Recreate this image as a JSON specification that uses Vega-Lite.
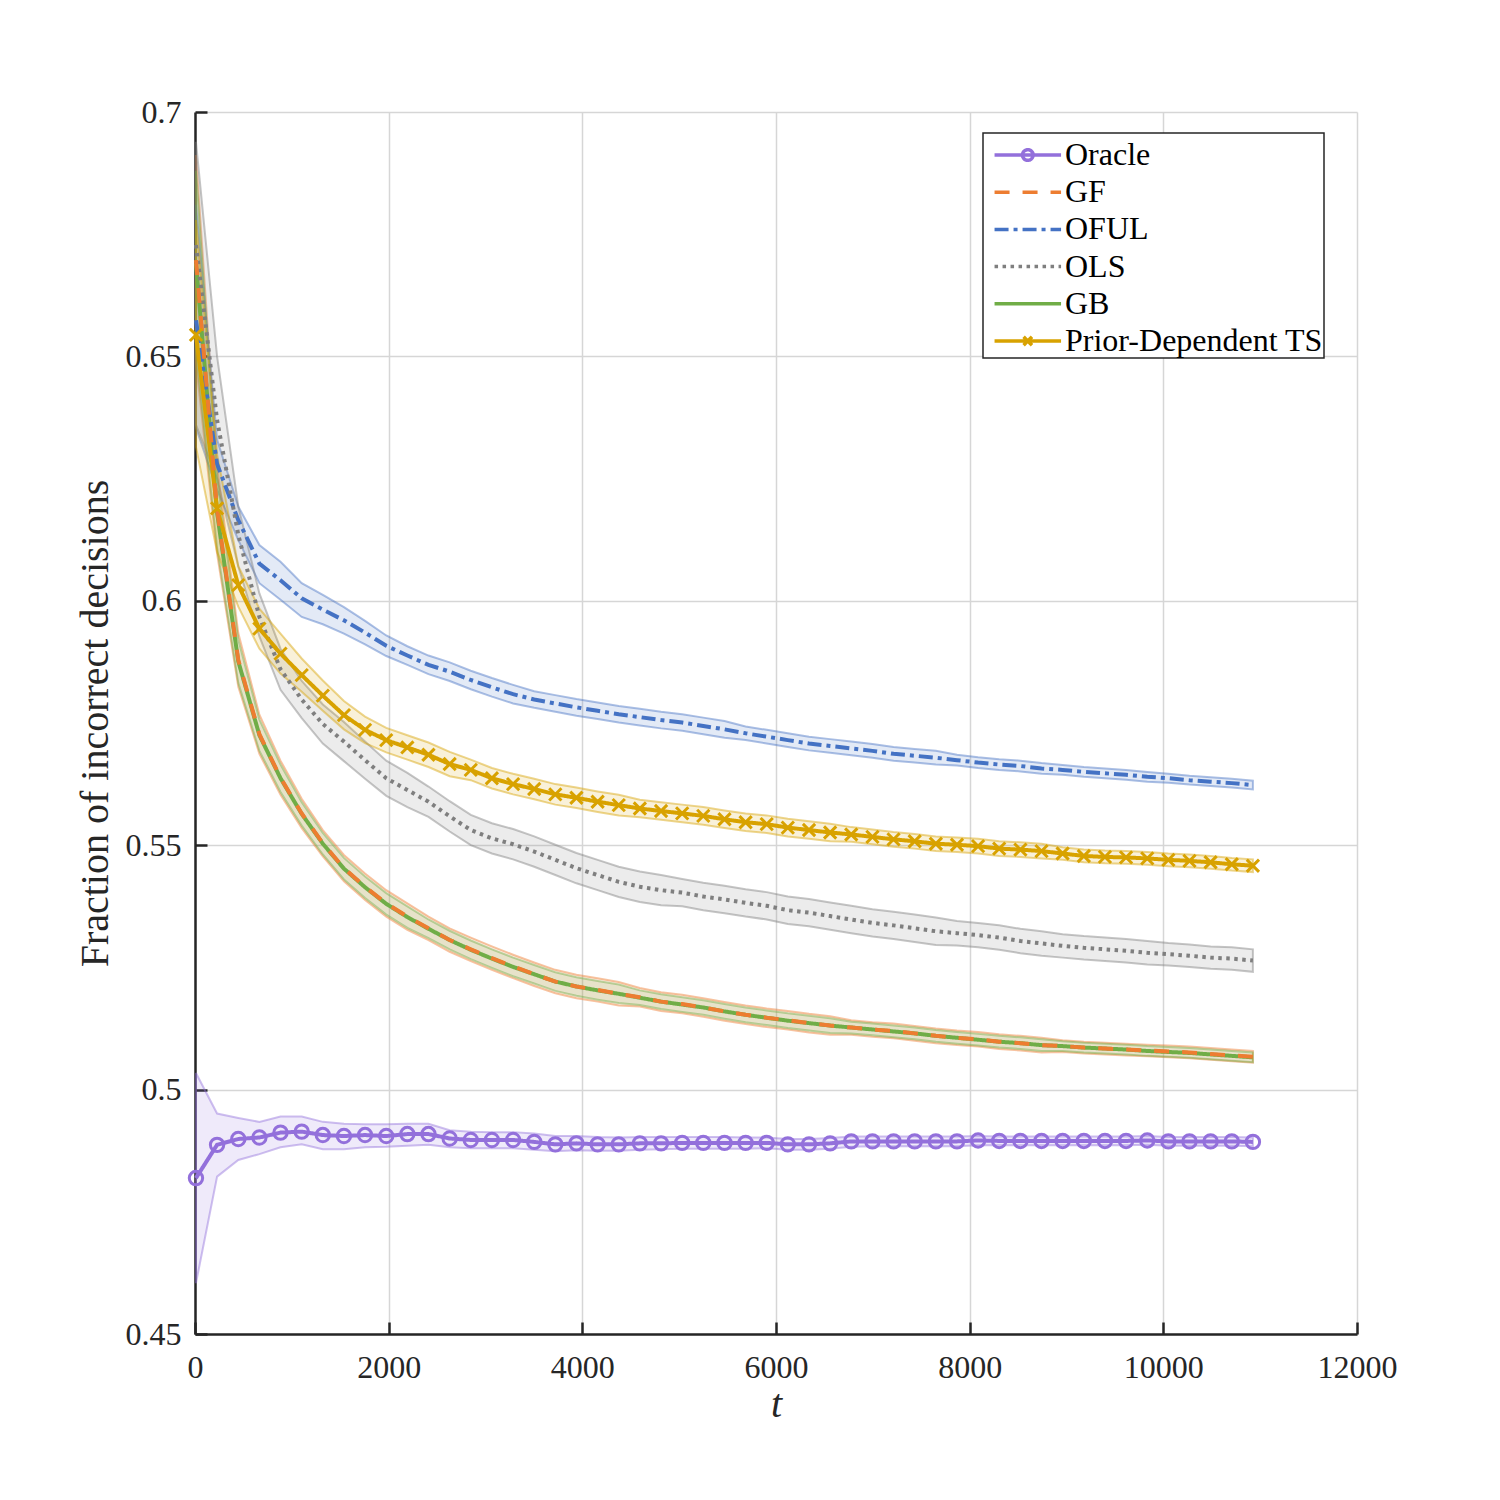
{
"$schema": "https://vega.github.io/schema/vega-lite/v6.json",
"width": 1162, "height": 1222,
"autosize": {"type": "none"},
"padding": {"left": 195, "top": 112, "right": 143, "bottom": 166},
"background": "white",
"config": {
  "font": "Liberation Serif",
  "view": {"stroke": null},
  "axis": {"domainColor": "#262626", "domainWidth": 2.5, "tickColor": "#262626", "tickWidth": 2.5, "tickSize": -12, "gridColor": "#d6d6d6", "gridWidth": 1.5, "labelFont": "Liberation Serif", "labelFontSize": 32, "labelColor": "#262626", "titleFont": "Liberation Serif", "titleFontSize": 40, "titleColor": "#262626", "titleFontWeight": "normal"}
},
"datasets": {"d": [
{"m":"Oracle","t":10,"v":0.4819,"lo":0.4604,"hi":0.5034},
{"m":"Oracle","t":228,"v":0.4887,"lo":0.4822,"hi":0.4951},
{"m":"Oracle","t":447,"v":0.4899,"lo":0.4856,"hi":0.4942},
{"m":"Oracle","t":665,"v":0.4902,"lo":0.4868,"hi":0.4934},
{"m":"Oracle","t":883,"v":0.4912,"lo":0.4882,"hi":0.4945},
{"m":"Oracle","t":1102,"v":0.4914,"lo":0.4888,"hi":0.4945},
{"m":"Oracle","t":1320,"v":0.4907,"lo":0.4878,"hi":0.4934},
{"m":"Oracle","t":1538,"v":0.4905,"lo":0.4878,"hi":0.4930},
{"m":"Oracle","t":1756,"v":0.4907,"lo":0.4882,"hi":0.4929},
{"m":"Oracle","t":1975,"v":0.4905,"lo":0.4883,"hi":0.4929},
{"m":"Oracle","t":2193,"v":0.4909,"lo":0.4885,"hi":0.4930},
{"m":"Oracle","t":2411,"v":0.4909,"lo":0.4887,"hi":0.4930},
{"m":"Oracle","t":2630,"v":0.4900,"lo":0.4882,"hi":0.4917},
{"m":"Oracle","t":2848,"v":0.4897,"lo":0.4880,"hi":0.4914},
{"m":"Oracle","t":3066,"v":0.4897,"lo":0.4880,"hi":0.4913},
{"m":"Oracle","t":3285,"v":0.4897,"lo":0.4880,"hi":0.4913},
{"m":"Oracle","t":3503,"v":0.4893,"lo":0.4877,"hi":0.4910},
{"m":"Oracle","t":3721,"v":0.4888,"lo":0.4874,"hi":0.4905},
{"m":"Oracle","t":3939,"v":0.4890,"lo":0.4876,"hi":0.4905},
{"m":"Oracle","t":4158,"v":0.4888,"lo":0.4875,"hi":0.4903},
{"m":"Oracle","t":4376,"v":0.4888,"lo":0.4875,"hi":0.4902},
{"m":"Oracle","t":4594,"v":0.4890,"lo":0.4877,"hi":0.4903},
{"m":"Oracle","t":4813,"v":0.4890,"lo":0.4878,"hi":0.4903},
{"m":"Oracle","t":5031,"v":0.4891,"lo":0.4879,"hi":0.4903},
{"m":"Oracle","t":5249,"v":0.4891,"lo":0.4879,"hi":0.4903},
{"m":"Oracle","t":5468,"v":0.4891,"lo":0.4879,"hi":0.4903},
{"m":"Oracle","t":5686,"v":0.4891,"lo":0.4879,"hi":0.4902},
{"m":"Oracle","t":5904,"v":0.4891,"lo":0.4880,"hi":0.4902},
{"m":"Oracle","t":6122,"v":0.4888,"lo":0.4877,"hi":0.4899},
{"m":"Oracle","t":6341,"v":0.4888,"lo":0.4877,"hi":0.4899},
{"m":"Oracle","t":6559,"v":0.4890,"lo":0.4879,"hi":0.4901},
{"m":"Oracle","t":6777,"v":0.4894,"lo":0.4883,"hi":0.4904},
{"m":"Oracle","t":6996,"v":0.4894,"lo":0.4884,"hi":0.4904},
{"m":"Oracle","t":7214,"v":0.4894,"lo":0.4884,"hi":0.4904},
{"m":"Oracle","t":7432,"v":0.4894,"lo":0.4884,"hi":0.4904},
{"m":"Oracle","t":7651,"v":0.4894,"lo":0.4884,"hi":0.4904},
{"m":"Oracle","t":7869,"v":0.4894,"lo":0.4884,"hi":0.4904},
{"m":"Oracle","t":8087,"v":0.4896,"lo":0.4886,"hi":0.4905},
{"m":"Oracle","t":8305,"v":0.4895,"lo":0.4886,"hi":0.4904},
{"m":"Oracle","t":8524,"v":0.4895,"lo":0.4886,"hi":0.4904},
{"m":"Oracle","t":8742,"v":0.4895,"lo":0.4886,"hi":0.4904},
{"m":"Oracle","t":8960,"v":0.4895,"lo":0.4886,"hi":0.4904},
{"m":"Oracle","t":9179,"v":0.4895,"lo":0.4886,"hi":0.4904},
{"m":"Oracle","t":9397,"v":0.4895,"lo":0.4886,"hi":0.4904},
{"m":"Oracle","t":9615,"v":0.4895,"lo":0.4886,"hi":0.4904},
{"m":"Oracle","t":9834,"v":0.4896,"lo":0.4887,"hi":0.4905},
{"m":"Oracle","t":10052,"v":0.4894,"lo":0.4885,"hi":0.4903},
{"m":"Oracle","t":10270,"v":0.4894,"lo":0.4885,"hi":0.4903},
{"m":"Oracle","t":10488,"v":0.4894,"lo":0.4885,"hi":0.4903},
{"m":"Oracle","t":10707,"v":0.4894,"lo":0.4885,"hi":0.4903},
{"m":"Oracle","t":10925,"v":0.4893,"lo":0.4884,"hi":0.4902},
{"m":"GB","t":10,"v":0.6690,"lo":0.6510,"hi":0.6880},
{"m":"GB","t":228,"v":0.6180,"lo":0.6108,"hi":0.6252},
{"m":"GB","t":447,"v":0.5876,"lo":0.5832,"hi":0.5920},
{"m":"GB","t":665,"v":0.5725,"lo":0.5693,"hi":0.5757},
{"m":"GB","t":883,"v":0.5637,"lo":0.5609,"hi":0.5665},
{"m":"GB","t":1102,"v":0.5564,"lo":0.5540,"hi":0.5588},
{"m":"GB","t":1320,"v":0.5503,"lo":0.5481,"hi":0.5525},
{"m":"GB","t":1538,"v":0.5452,"lo":0.5430,"hi":0.5474},
{"m":"GB","t":1756,"v":0.5414,"lo":0.5392,"hi":0.5436},
{"m":"GB","t":1975,"v":0.5380,"lo":0.5358,"hi":0.5402},
{"m":"GB","t":2193,"v":0.5353,"lo":0.5331,"hi":0.5375},
{"m":"GB","t":2411,"v":0.5329,"lo":0.5310,"hi":0.5348},
{"m":"GB","t":2630,"v":0.5306,"lo":0.5287,"hi":0.5325},
{"m":"GB","t":2848,"v":0.5286,"lo":0.5267,"hi":0.5305},
{"m":"GB","t":3066,"v":0.5268,"lo":0.5249,"hi":0.5287},
{"m":"GB","t":3285,"v":0.5251,"lo":0.5232,"hi":0.5270},
{"m":"GB","t":3503,"v":0.5236,"lo":0.5217,"hi":0.5255},
{"m":"GB","t":3721,"v":0.5221,"lo":0.5202,"hi":0.5240},
{"m":"GB","t":3939,"v":0.5211,"lo":0.5192,"hi":0.5230},
{"m":"GB","t":4158,"v":0.5203,"lo":0.5184,"hi":0.5222},
{"m":"GB","t":4376,"v":0.5196,"lo":0.5177,"hi":0.5215},
{"m":"GB","t":4594,"v":0.5188,"lo":0.5173,"hi":0.5203},
{"m":"GB","t":4813,"v":0.5180,"lo":0.5165,"hi":0.5195},
{"m":"GB","t":5031,"v":0.5174,"lo":0.5159,"hi":0.5189},
{"m":"GB","t":5249,"v":0.5168,"lo":0.5153,"hi":0.5183},
{"m":"GB","t":5468,"v":0.5160,"lo":0.5145,"hi":0.5175},
{"m":"GB","t":5686,"v":0.5153,"lo":0.5138,"hi":0.5168},
{"m":"GB","t":5904,"v":0.5147,"lo":0.5132,"hi":0.5162},
{"m":"GB","t":6122,"v":0.5141,"lo":0.5126,"hi":0.5156},
{"m":"GB","t":6341,"v":0.5136,"lo":0.5121,"hi":0.5151},
{"m":"GB","t":6559,"v":0.5131,"lo":0.5116,"hi":0.5146},
{"m":"GB","t":6777,"v":0.5127,"lo":0.5115,"hi":0.5139},
{"m":"GB","t":6996,"v":0.5123,"lo":0.5111,"hi":0.5135},
{"m":"GB","t":7214,"v":0.5119,"lo":0.5107,"hi":0.5131},
{"m":"GB","t":7432,"v":0.5115,"lo":0.5103,"hi":0.5127},
{"m":"GB","t":7651,"v":0.5110,"lo":0.5098,"hi":0.5122},
{"m":"GB","t":7869,"v":0.5106,"lo":0.5094,"hi":0.5118},
{"m":"GB","t":8087,"v":0.5102,"lo":0.5090,"hi":0.5114},
{"m":"GB","t":8305,"v":0.5098,"lo":0.5086,"hi":0.5110},
{"m":"GB","t":8524,"v":0.5095,"lo":0.5083,"hi":0.5107},
{"m":"GB","t":8742,"v":0.5091,"lo":0.5079,"hi":0.5103},
{"m":"GB","t":8960,"v":0.5089,"lo":0.5079,"hi":0.5099},
{"m":"GB","t":9179,"v":0.5086,"lo":0.5076,"hi":0.5096},
{"m":"GB","t":9397,"v":0.5084,"lo":0.5074,"hi":0.5094},
{"m":"GB","t":9615,"v":0.5082,"lo":0.5072,"hi":0.5092},
{"m":"GB","t":9834,"v":0.5079,"lo":0.5069,"hi":0.5089},
{"m":"GB","t":10052,"v":0.5077,"lo":0.5067,"hi":0.5087},
{"m":"GB","t":10270,"v":0.5075,"lo":0.5065,"hi":0.5085},
{"m":"GB","t":10488,"v":0.5072,"lo":0.5062,"hi":0.5082},
{"m":"GB","t":10707,"v":0.5069,"lo":0.5059,"hi":0.5079},
{"m":"GB","t":10925,"v":0.5066,"lo":0.5056,"hi":0.5076},
{"m":"GF","t":10,"v":0.6697,"lo":0.6486,"hi":0.6912},
{"m":"GF","t":228,"v":0.6186,"lo":0.6096,"hi":0.6276},
{"m":"GF","t":447,"v":0.5879,"lo":0.5824,"hi":0.5934},
{"m":"GF","t":665,"v":0.5727,"lo":0.5687,"hi":0.5767},
{"m":"GF","t":883,"v":0.5638,"lo":0.5603,"hi":0.5673},
{"m":"GF","t":1102,"v":0.5565,"lo":0.5535,"hi":0.5595},
{"m":"GF","t":1320,"v":0.5504,"lo":0.5477,"hi":0.5531},
{"m":"GF","t":1538,"v":0.5453,"lo":0.5426,"hi":0.5480},
{"m":"GF","t":1756,"v":0.5415,"lo":0.5388,"hi":0.5442},
{"m":"GF","t":1975,"v":0.5381,"lo":0.5354,"hi":0.5408},
{"m":"GF","t":2193,"v":0.5354,"lo":0.5327,"hi":0.5381},
{"m":"GF","t":2411,"v":0.5330,"lo":0.5306,"hi":0.5354},
{"m":"GF","t":2630,"v":0.5306,"lo":0.5282,"hi":0.5330},
{"m":"GF","t":2848,"v":0.5287,"lo":0.5263,"hi":0.5311},
{"m":"GF","t":3066,"v":0.5269,"lo":0.5245,"hi":0.5293},
{"m":"GF","t":3285,"v":0.5252,"lo":0.5228,"hi":0.5276},
{"m":"GF","t":3503,"v":0.5236,"lo":0.5212,"hi":0.5260},
{"m":"GF","t":3721,"v":0.5221,"lo":0.5197,"hi":0.5245},
{"m":"GF","t":3939,"v":0.5211,"lo":0.5187,"hi":0.5235},
{"m":"GF","t":4158,"v":0.5204,"lo":0.5180,"hi":0.5228},
{"m":"GF","t":4376,"v":0.5196,"lo":0.5172,"hi":0.5220},
{"m":"GF","t":4594,"v":0.5189,"lo":0.5170,"hi":0.5208},
{"m":"GF","t":4813,"v":0.5180,"lo":0.5161,"hi":0.5199},
{"m":"GF","t":5031,"v":0.5175,"lo":0.5156,"hi":0.5194},
{"m":"GF","t":5249,"v":0.5168,"lo":0.5149,"hi":0.5187},
{"m":"GF","t":5468,"v":0.5160,"lo":0.5141,"hi":0.5179},
{"m":"GF","t":5686,"v":0.5153,"lo":0.5134,"hi":0.5172},
{"m":"GF","t":5904,"v":0.5147,"lo":0.5128,"hi":0.5166},
{"m":"GF","t":6122,"v":0.5142,"lo":0.5123,"hi":0.5161},
{"m":"GF","t":6341,"v":0.5136,"lo":0.5117,"hi":0.5155},
{"m":"GF","t":6559,"v":0.5131,"lo":0.5112,"hi":0.5150},
{"m":"GF","t":6777,"v":0.5127,"lo":0.5112,"hi":0.5142},
{"m":"GF","t":6996,"v":0.5123,"lo":0.5108,"hi":0.5138},
{"m":"GF","t":7214,"v":0.5120,"lo":0.5105,"hi":0.5135},
{"m":"GF","t":7432,"v":0.5115,"lo":0.5100,"hi":0.5130},
{"m":"GF","t":7651,"v":0.5110,"lo":0.5095,"hi":0.5125},
{"m":"GF","t":7869,"v":0.5106,"lo":0.5091,"hi":0.5121},
{"m":"GF","t":8087,"v":0.5103,"lo":0.5088,"hi":0.5118},
{"m":"GF","t":8305,"v":0.5098,"lo":0.5083,"hi":0.5113},
{"m":"GF","t":8524,"v":0.5095,"lo":0.5080,"hi":0.5110},
{"m":"GF","t":8742,"v":0.5091,"lo":0.5076,"hi":0.5106},
{"m":"GF","t":8960,"v":0.5089,"lo":0.5077,"hi":0.5101},
{"m":"GF","t":9179,"v":0.5086,"lo":0.5074,"hi":0.5098},
{"m":"GF","t":9397,"v":0.5084,"lo":0.5072,"hi":0.5096},
{"m":"GF","t":9615,"v":0.5082,"lo":0.5070,"hi":0.5094},
{"m":"GF","t":9834,"v":0.5080,"lo":0.5068,"hi":0.5092},
{"m":"GF","t":10052,"v":0.5078,"lo":0.5066,"hi":0.5090},
{"m":"GF","t":10270,"v":0.5076,"lo":0.5064,"hi":0.5088},
{"m":"GF","t":10488,"v":0.5073,"lo":0.5061,"hi":0.5085},
{"m":"GF","t":10707,"v":0.5070,"lo":0.5058,"hi":0.5082},
{"m":"GF","t":10925,"v":0.5067,"lo":0.5055,"hi":0.5079},
{"m":"OFUL","t":10,"v":0.6574,"lo":0.6354,"hi":0.6810},
{"m":"OFUL","t":228,"v":0.6280,"lo":0.6227,"hi":0.6330},
{"m":"OFUL","t":447,"v":0.6165,"lo":0.6124,"hi":0.6193},
{"m":"OFUL","t":665,"v":0.6076,"lo":0.6036,"hi":0.6114},
{"m":"OFUL","t":883,"v":0.6042,"lo":0.6002,"hi":0.6080},
{"m":"OFUL","t":1102,"v":0.6005,"lo":0.5967,"hi":0.6036},
{"m":"OFUL","t":1320,"v":0.5982,"lo":0.5952,"hi":0.6012},
{"m":"OFUL","t":1538,"v":0.5960,"lo":0.5933,"hi":0.5987},
{"m":"OFUL","t":1756,"v":0.5935,"lo":0.5911,"hi":0.5959},
{"m":"OFUL","t":1975,"v":0.5908,"lo":0.5887,"hi":0.5929},
{"m":"OFUL","t":2193,"v":0.5888,"lo":0.5869,"hi":0.5907},
{"m":"OFUL","t":2411,"v":0.5869,"lo":0.5850,"hi":0.5888},
{"m":"OFUL","t":2630,"v":0.5855,"lo":0.5836,"hi":0.5874},
{"m":"OFUL","t":2848,"v":0.5838,"lo":0.5819,"hi":0.5857},
{"m":"OFUL","t":3066,"v":0.5823,"lo":0.5804,"hi":0.5842},
{"m":"OFUL","t":3285,"v":0.5809,"lo":0.5790,"hi":0.5828},
{"m":"OFUL","t":3503,"v":0.5798,"lo":0.5781,"hi":0.5815},
{"m":"OFUL","t":3721,"v":0.5790,"lo":0.5773,"hi":0.5807},
{"m":"OFUL","t":3939,"v":0.5782,"lo":0.5765,"hi":0.5799},
{"m":"OFUL","t":4158,"v":0.5775,"lo":0.5758,"hi":0.5792},
{"m":"OFUL","t":4376,"v":0.5768,"lo":0.5751,"hi":0.5785},
{"m":"OFUL","t":4594,"v":0.5762,"lo":0.5745,"hi":0.5779},
{"m":"OFUL","t":4813,"v":0.5756,"lo":0.5739,"hi":0.5773},
{"m":"OFUL","t":5031,"v":0.5751,"lo":0.5734,"hi":0.5768},
{"m":"OFUL","t":5249,"v":0.5744,"lo":0.5727,"hi":0.5761},
{"m":"OFUL","t":5468,"v":0.5737,"lo":0.5720,"hi":0.5754},
{"m":"OFUL","t":5686,"v":0.5729,"lo":0.5715,"hi":0.5743},
{"m":"OFUL","t":5904,"v":0.5722,"lo":0.5708,"hi":0.5736},
{"m":"OFUL","t":6122,"v":0.5715,"lo":0.5701,"hi":0.5729},
{"m":"OFUL","t":6341,"v":0.5708,"lo":0.5694,"hi":0.5722},
{"m":"OFUL","t":6559,"v":0.5703,"lo":0.5689,"hi":0.5717},
{"m":"OFUL","t":6777,"v":0.5698,"lo":0.5684,"hi":0.5712},
{"m":"OFUL","t":6996,"v":0.5693,"lo":0.5679,"hi":0.5707},
{"m":"OFUL","t":7214,"v":0.5687,"lo":0.5673,"hi":0.5701},
{"m":"OFUL","t":7432,"v":0.5683,"lo":0.5669,"hi":0.5697},
{"m":"OFUL","t":7651,"v":0.5679,"lo":0.5665,"hi":0.5693},
{"m":"OFUL","t":7869,"v":0.5674,"lo":0.5663,"hi":0.5685},
{"m":"OFUL","t":8087,"v":0.5669,"lo":0.5658,"hi":0.5680},
{"m":"OFUL","t":8305,"v":0.5665,"lo":0.5654,"hi":0.5676},
{"m":"OFUL","t":8524,"v":0.5662,"lo":0.5651,"hi":0.5673},
{"m":"OFUL","t":8742,"v":0.5657,"lo":0.5646,"hi":0.5668},
{"m":"OFUL","t":8960,"v":0.5654,"lo":0.5644,"hi":0.5664},
{"m":"OFUL","t":9179,"v":0.5650,"lo":0.5640,"hi":0.5660},
{"m":"OFUL","t":9397,"v":0.5647,"lo":0.5637,"hi":0.5657},
{"m":"OFUL","t":9615,"v":0.5644,"lo":0.5634,"hi":0.5654},
{"m":"OFUL","t":9834,"v":0.5640,"lo":0.5630,"hi":0.5650},
{"m":"OFUL","t":10052,"v":0.5637,"lo":0.5628,"hi":0.5646},
{"m":"OFUL","t":10270,"v":0.5633,"lo":0.5624,"hi":0.5642},
{"m":"OFUL","t":10488,"v":0.5630,"lo":0.5621,"hi":0.5639},
{"m":"OFUL","t":10707,"v":0.5627,"lo":0.5618,"hi":0.5636},
{"m":"OFUL","t":10925,"v":0.5623,"lo":0.5614,"hi":0.5632},
{"m":"OLS","t":10,"v":0.6728,"lo":0.6360,"hi":0.6939},
{"m":"OLS","t":228,"v":0.6370,"lo":0.6250,"hi":0.6500},
{"m":"OLS","t":447,"v":0.6135,"lo":0.6070,"hi":0.6193},
{"m":"OLS","t":665,"v":0.5967,"lo":0.5927,"hi":0.6015},
{"m":"OLS","t":883,"v":0.5860,"lo":0.5818,"hi":0.5902},
{"m":"OLS","t":1102,"v":0.5798,"lo":0.5760,"hi":0.5836},
{"m":"OLS","t":1320,"v":0.5748,"lo":0.5708,"hi":0.5788},
{"m":"OLS","t":1538,"v":0.5712,"lo":0.5672,"hi":0.5752},
{"m":"OLS","t":1756,"v":0.5674,"lo":0.5636,"hi":0.5712},
{"m":"OLS","t":1975,"v":0.5637,"lo":0.5601,"hi":0.5673},
{"m":"OLS","t":2193,"v":0.5613,"lo":0.5578,"hi":0.5648},
{"m":"OLS","t":2411,"v":0.5589,"lo":0.5558,"hi":0.5620},
{"m":"OLS","t":2630,"v":0.5559,"lo":0.5528,"hi":0.5590},
{"m":"OLS","t":2848,"v":0.5531,"lo":0.5500,"hi":0.5562},
{"m":"OLS","t":3066,"v":0.5514,"lo":0.5483,"hi":0.5545},
{"m":"OLS","t":3285,"v":0.5502,"lo":0.5471,"hi":0.5533},
{"m":"OLS","t":3503,"v":0.5487,"lo":0.5456,"hi":0.5518},
{"m":"OLS","t":3721,"v":0.5470,"lo":0.5439,"hi":0.5501},
{"m":"OLS","t":3939,"v":0.5453,"lo":0.5422,"hi":0.5484},
{"m":"OLS","t":4158,"v":0.5439,"lo":0.5408,"hi":0.5470},
{"m":"OLS","t":4376,"v":0.5425,"lo":0.5394,"hi":0.5456},
{"m":"OLS","t":4594,"v":0.5415,"lo":0.5384,"hi":0.5446},
{"m":"OLS","t":4813,"v":0.5408,"lo":0.5377,"hi":0.5439},
{"m":"OLS","t":5031,"v":0.5403,"lo":0.5375,"hi":0.5431},
{"m":"OLS","t":5249,"v":0.5395,"lo":0.5367,"hi":0.5423},
{"m":"OLS","t":5468,"v":0.5389,"lo":0.5361,"hi":0.5417},
{"m":"OLS","t":5686,"v":0.5382,"lo":0.5354,"hi":0.5410},
{"m":"OLS","t":5904,"v":0.5376,"lo":0.5348,"hi":0.5404},
{"m":"OLS","t":6122,"v":0.5367,"lo":0.5339,"hi":0.5395},
{"m":"OLS","t":6341,"v":0.5362,"lo":0.5334,"hi":0.5390},
{"m":"OLS","t":6559,"v":0.5355,"lo":0.5327,"hi":0.5383},
{"m":"OLS","t":6777,"v":0.5348,"lo":0.5320,"hi":0.5376},
{"m":"OLS","t":6996,"v":0.5341,"lo":0.5313,"hi":0.5369},
{"m":"OLS","t":7214,"v":0.5336,"lo":0.5308,"hi":0.5364},
{"m":"OLS","t":7432,"v":0.5330,"lo":0.5302,"hi":0.5358},
{"m":"OLS","t":7651,"v":0.5324,"lo":0.5296,"hi":0.5352},
{"m":"OLS","t":7869,"v":0.5320,"lo":0.5295,"hi":0.5345},
{"m":"OLS","t":8087,"v":0.5316,"lo":0.5291,"hi":0.5341},
{"m":"OLS","t":8305,"v":0.5311,"lo":0.5286,"hi":0.5336},
{"m":"OLS","t":8524,"v":0.5304,"lo":0.5279,"hi":0.5329},
{"m":"OLS","t":8742,"v":0.5299,"lo":0.5274,"hi":0.5324},
{"m":"OLS","t":8960,"v":0.5294,"lo":0.5270,"hi":0.5318},
{"m":"OLS","t":9179,"v":0.5290,"lo":0.5266,"hi":0.5314},
{"m":"OLS","t":9397,"v":0.5287,"lo":0.5263,"hi":0.5311},
{"m":"OLS","t":9615,"v":0.5284,"lo":0.5260,"hi":0.5308},
{"m":"OLS","t":9834,"v":0.5280,"lo":0.5256,"hi":0.5304},
{"m":"OLS","t":10052,"v":0.5277,"lo":0.5254,"hi":0.5300},
{"m":"OLS","t":10270,"v":0.5274,"lo":0.5251,"hi":0.5297},
{"m":"OLS","t":10488,"v":0.5270,"lo":0.5247,"hi":0.5293},
{"m":"OLS","t":10707,"v":0.5268,"lo":0.5245,"hi":0.5291},
{"m":"OLS","t":10925,"v":0.5264,"lo":0.5241,"hi":0.5287},
{"m":"Prior-Dependent TS","t":10,"v":0.6544,"lo":0.6315,"hi":0.6779},
{"m":"Prior-Dependent TS","t":228,"v":0.6189,"lo":0.6100,"hi":0.6300},
{"m":"Prior-Dependent TS","t":447,"v":0.6032,"lo":0.5988,"hi":0.6071},
{"m":"Prior-Dependent TS","t":665,"v":0.5943,"lo":0.5902,"hi":0.5984},
{"m":"Prior-Dependent TS","t":883,"v":0.5892,"lo":0.5851,"hi":0.5933},
{"m":"Prior-Dependent TS","t":1102,"v":0.5848,"lo":0.5814,"hi":0.5882},
{"m":"Prior-Dependent TS","t":1320,"v":0.5806,"lo":0.5775,"hi":0.5837},
{"m":"Prior-Dependent TS","t":1538,"v":0.5766,"lo":0.5737,"hi":0.5795},
{"m":"Prior-Dependent TS","t":1756,"v":0.5736,"lo":0.5709,"hi":0.5763},
{"m":"Prior-Dependent TS","t":1975,"v":0.5715,"lo":0.5690,"hi":0.5740},
{"m":"Prior-Dependent TS","t":2193,"v":0.5700,"lo":0.5675,"hi":0.5725},
{"m":"Prior-Dependent TS","t":2411,"v":0.5685,"lo":0.5660,"hi":0.5710},
{"m":"Prior-Dependent TS","t":2630,"v":0.5666,"lo":0.5641,"hi":0.5691},
{"m":"Prior-Dependent TS","t":2848,"v":0.5654,"lo":0.5633,"hi":0.5675},
{"m":"Prior-Dependent TS","t":3066,"v":0.5637,"lo":0.5616,"hi":0.5658},
{"m":"Prior-Dependent TS","t":3285,"v":0.5625,"lo":0.5604,"hi":0.5646},
{"m":"Prior-Dependent TS","t":3503,"v":0.5615,"lo":0.5594,"hi":0.5636},
{"m":"Prior-Dependent TS","t":3721,"v":0.5604,"lo":0.5583,"hi":0.5625},
{"m":"Prior-Dependent TS","t":3939,"v":0.5597,"lo":0.5576,"hi":0.5618},
{"m":"Prior-Dependent TS","t":4158,"v":0.5589,"lo":0.5568,"hi":0.5610},
{"m":"Prior-Dependent TS","t":4376,"v":0.5582,"lo":0.5561,"hi":0.5603},
{"m":"Prior-Dependent TS","t":4594,"v":0.5575,"lo":0.5557,"hi":0.5593},
{"m":"Prior-Dependent TS","t":4813,"v":0.5570,"lo":0.5552,"hi":0.5588},
{"m":"Prior-Dependent TS","t":5031,"v":0.5565,"lo":0.5547,"hi":0.5583},
{"m":"Prior-Dependent TS","t":5249,"v":0.5560,"lo":0.5542,"hi":0.5578},
{"m":"Prior-Dependent TS","t":5468,"v":0.5553,"lo":0.5535,"hi":0.5571},
{"m":"Prior-Dependent TS","t":5686,"v":0.5547,"lo":0.5529,"hi":0.5565},
{"m":"Prior-Dependent TS","t":5904,"v":0.5543,"lo":0.5525,"hi":0.5561},
{"m":"Prior-Dependent TS","t":6122,"v":0.5536,"lo":0.5518,"hi":0.5554},
{"m":"Prior-Dependent TS","t":6341,"v":0.5531,"lo":0.5513,"hi":0.5549},
{"m":"Prior-Dependent TS","t":6559,"v":0.5526,"lo":0.5508,"hi":0.5544},
{"m":"Prior-Dependent TS","t":6777,"v":0.5522,"lo":0.5507,"hi":0.5537},
{"m":"Prior-Dependent TS","t":6996,"v":0.5517,"lo":0.5502,"hi":0.5532},
{"m":"Prior-Dependent TS","t":7214,"v":0.5512,"lo":0.5497,"hi":0.5527},
{"m":"Prior-Dependent TS","t":7432,"v":0.5508,"lo":0.5493,"hi":0.5523},
{"m":"Prior-Dependent TS","t":7651,"v":0.5503,"lo":0.5488,"hi":0.5518},
{"m":"Prior-Dependent TS","t":7869,"v":0.5501,"lo":0.5486,"hi":0.5516},
{"m":"Prior-Dependent TS","t":8087,"v":0.5498,"lo":0.5483,"hi":0.5513},
{"m":"Prior-Dependent TS","t":8305,"v":0.5493,"lo":0.5478,"hi":0.5508},
{"m":"Prior-Dependent TS","t":8524,"v":0.5491,"lo":0.5476,"hi":0.5506},
{"m":"Prior-Dependent TS","t":8742,"v":0.5488,"lo":0.5473,"hi":0.5503},
{"m":"Prior-Dependent TS","t":8960,"v":0.5483,"lo":0.5470,"hi":0.5496},
{"m":"Prior-Dependent TS","t":9179,"v":0.5478,"lo":0.5465,"hi":0.5491},
{"m":"Prior-Dependent TS","t":9397,"v":0.5476,"lo":0.5463,"hi":0.5489},
{"m":"Prior-Dependent TS","t":9615,"v":0.5475,"lo":0.5462,"hi":0.5488},
{"m":"Prior-Dependent TS","t":9834,"v":0.5473,"lo":0.5460,"hi":0.5486},
{"m":"Prior-Dependent TS","t":10052,"v":0.5470,"lo":0.5457,"hi":0.5483},
{"m":"Prior-Dependent TS","t":10270,"v":0.5468,"lo":0.5455,"hi":0.5481},
{"m":"Prior-Dependent TS","t":10488,"v":0.5465,"lo":0.5452,"hi":0.5478},
{"m":"Prior-Dependent TS","t":10707,"v":0.5461,"lo":0.5448,"hi":0.5474},
{"m":"Prior-Dependent TS","t":10925,"v":0.5458,"lo":0.5445,"hi":0.5471}
]},
"data": {"name": "d"},
"encoding": {
  "x": {"field": "t", "type": "quantitative", "scale": {"domain": [0, 12000], "nice": false}, "axis": {"values": [0, 2000, 4000, 6000, 8000, 10000, 12000], "format": "d", "labelPadding": 30, "labelFlush": false, "title": "t", "titleFontStyle": "italic", "titleY": 82, "titleBaseline": "alphabetic"}},
  "y": {"field": "v", "type": "quantitative", "scale": {"domain": [0.45, 0.7], "nice": false, "zero": false}, "axis": {"values": [0.45, 0.5, 0.55, 0.6, 0.65, 0.7], "format": ".2~f", "labelPadding": 26, "labelFlush": false, "title": "Fraction of incorrect decisions", "titleX": -88, "titleBaseline": "alphabetic"}}
},
"layer": [
  {"transform": [{"filter": "datum.m == 'Oracle'"}], "mark": {"type": "area", "fill": "#9370db", "stroke": "#9370db", "fillOpacity": 0.15, "strokeOpacity": 0.45, "strokeWidth": 2},
   "encoding": {"y": {"field": "lo", "type": "quantitative", "scale": {"domain": [0.45, 0.7], "nice": false, "zero": false}, "title": "Fraction of incorrect decisions"}, "y2": {"field": "hi"}}},
  {"transform": [{"filter": "datum.m == 'GF'"}], "mark": {"type": "area", "fill": "#ed7d31", "stroke": "#ed7d31", "fillOpacity": 0.15, "strokeOpacity": 0.45, "strokeWidth": 2},
   "encoding": {"y": {"field": "lo", "type": "quantitative", "scale": {"domain": [0.45, 0.7], "nice": false, "zero": false}, "title": "Fraction of incorrect decisions"}, "y2": {"field": "hi"}}},
  {"transform": [{"filter": "datum.m == 'OFUL'"}], "mark": {"type": "area", "fill": "#4472c4", "stroke": "#4472c4", "fillOpacity": 0.15, "strokeOpacity": 0.45, "strokeWidth": 2},
   "encoding": {"y": {"field": "lo", "type": "quantitative", "scale": {"domain": [0.45, 0.7], "nice": false, "zero": false}, "title": "Fraction of incorrect decisions"}, "y2": {"field": "hi"}}},
  {"transform": [{"filter": "datum.m == 'OLS'"}], "mark": {"type": "area", "fill": "#7f7f7f", "stroke": "#7f7f7f", "fillOpacity": 0.15, "strokeOpacity": 0.45, "strokeWidth": 2},
   "encoding": {"y": {"field": "lo", "type": "quantitative", "scale": {"domain": [0.45, 0.7], "nice": false, "zero": false}, "title": "Fraction of incorrect decisions"}, "y2": {"field": "hi"}}},
  {"transform": [{"filter": "datum.m == 'GB'"}], "mark": {"type": "area", "fill": "#70ad47", "stroke": "#70ad47", "fillOpacity": 0.15, "strokeOpacity": 0.45, "strokeWidth": 2},
   "encoding": {"y": {"field": "lo", "type": "quantitative", "scale": {"domain": [0.45, 0.7], "nice": false, "zero": false}, "title": "Fraction of incorrect decisions"}, "y2": {"field": "hi"}}},
  {"transform": [{"filter": "datum.m == 'Prior-Dependent TS'"}], "mark": {"type": "area", "fill": "#d8a200", "stroke": "#d8a200", "fillOpacity": 0.15, "strokeOpacity": 0.45, "strokeWidth": 2},
   "encoding": {"y": {"field": "lo", "type": "quantitative", "scale": {"domain": [0.45, 0.7], "nice": false, "zero": false}, "title": "Fraction of incorrect decisions"}, "y2": {"field": "hi"}}},
  {
    "transform": [{"filter": "datum.m != 'GF'"}],
    "mark": {"type": "line", "strokeWidth": 4},
    "encoding": {
      "color": {"field": "m", "type": "nominal", "scale": {"domain": ["Oracle", "GF", "OFUL", "OLS", "GB", "Prior-Dependent TS"], "range": ["#9370db", "#ed7d31", "#4472c4", "#7f7f7f", "#70ad47", "#d8a200"]},
        "legend": {"title": null, "orient": "none", "legendX": 788, "legendY": 21, "direction": "vertical", "fillColor": "white", "strokeColor": "#262626", "padding": 1, "labelFont": "Liberation Serif", "labelFontSize": 32, "labelColor": "#000000", "labelLimit": 500, "symbolSize": 1444, "symbolStrokeWidth": 3.5, "labelOffset": 39, "rowPadding": 0.2,
          "encoding": {"symbols": {"shape": {"value": {"expr": "datum.value == 'Oracle' ? 'M-0.55,0H2.95M1.48,0A0.28,0.28 0 1 1 0.92,0A0.28,0.28 0 1 1 1.48,0' : (datum.value == 'Prior-Dependent TS' ? 'M-0.55,0H2.95M0.98,-0.22L1.42,0.22M0.98,0.22L1.42,-0.22' : 'M-0.55,0H2.95')"}}, "fill": {"value": "transparent"}}, "legend": {"strokeWidth": {"value": 1.5}}}}},
      "strokeDash": {"field": "m", "type": "nominal", "scale": {"domain": ["Oracle", "GF", "OFUL", "OLS", "GB", "Prior-Dependent TS"], "range": [[1, 0], [15, 13], [14, 5, 4, 5], [3.5, 4.5], [1, 0], [1, 0]]}}
    }
  },
  {
    "transform": [{"filter": "datum.m == 'GF'"}],
    "mark": {"type": "line", "strokeWidth": 4},
    "encoding": {
      "color": {"field": "m", "type": "nominal", "scale": {"domain": ["Oracle", "GF", "OFUL", "OLS", "GB", "Prior-Dependent TS"], "range": ["#9370db", "#ed7d31", "#4472c4", "#7f7f7f", "#70ad47", "#d8a200"]}},
      "strokeDash": {"field": "m", "type": "nominal", "scale": {"domain": ["Oracle", "GF", "OFUL", "OLS", "GB", "Prior-Dependent TS"], "range": [[1, 0], [15, 13], [14, 5, 4, 5], [3.5, 4.5], [1, 0], [1, 0]]}}
    }
  },
  {
    "transform": [{"filter": "datum.m == 'Oracle'"}],
    "mark": {"type": "point", "shape": "circle", "filled": false, "stroke": "#9370db", "strokeWidth": 3, "size": 180, "opacity": 1}
  },
  {
    "transform": [{"filter": "datum.m == 'Prior-Dependent TS'"}],
    "mark": {"type": "point", "shape": "M-1,-1L1,1M-1,1L1,-1", "filled": false, "stroke": "#d8a200", "strokeWidth": 3, "size": 150, "opacity": 1}
  }
]
}
